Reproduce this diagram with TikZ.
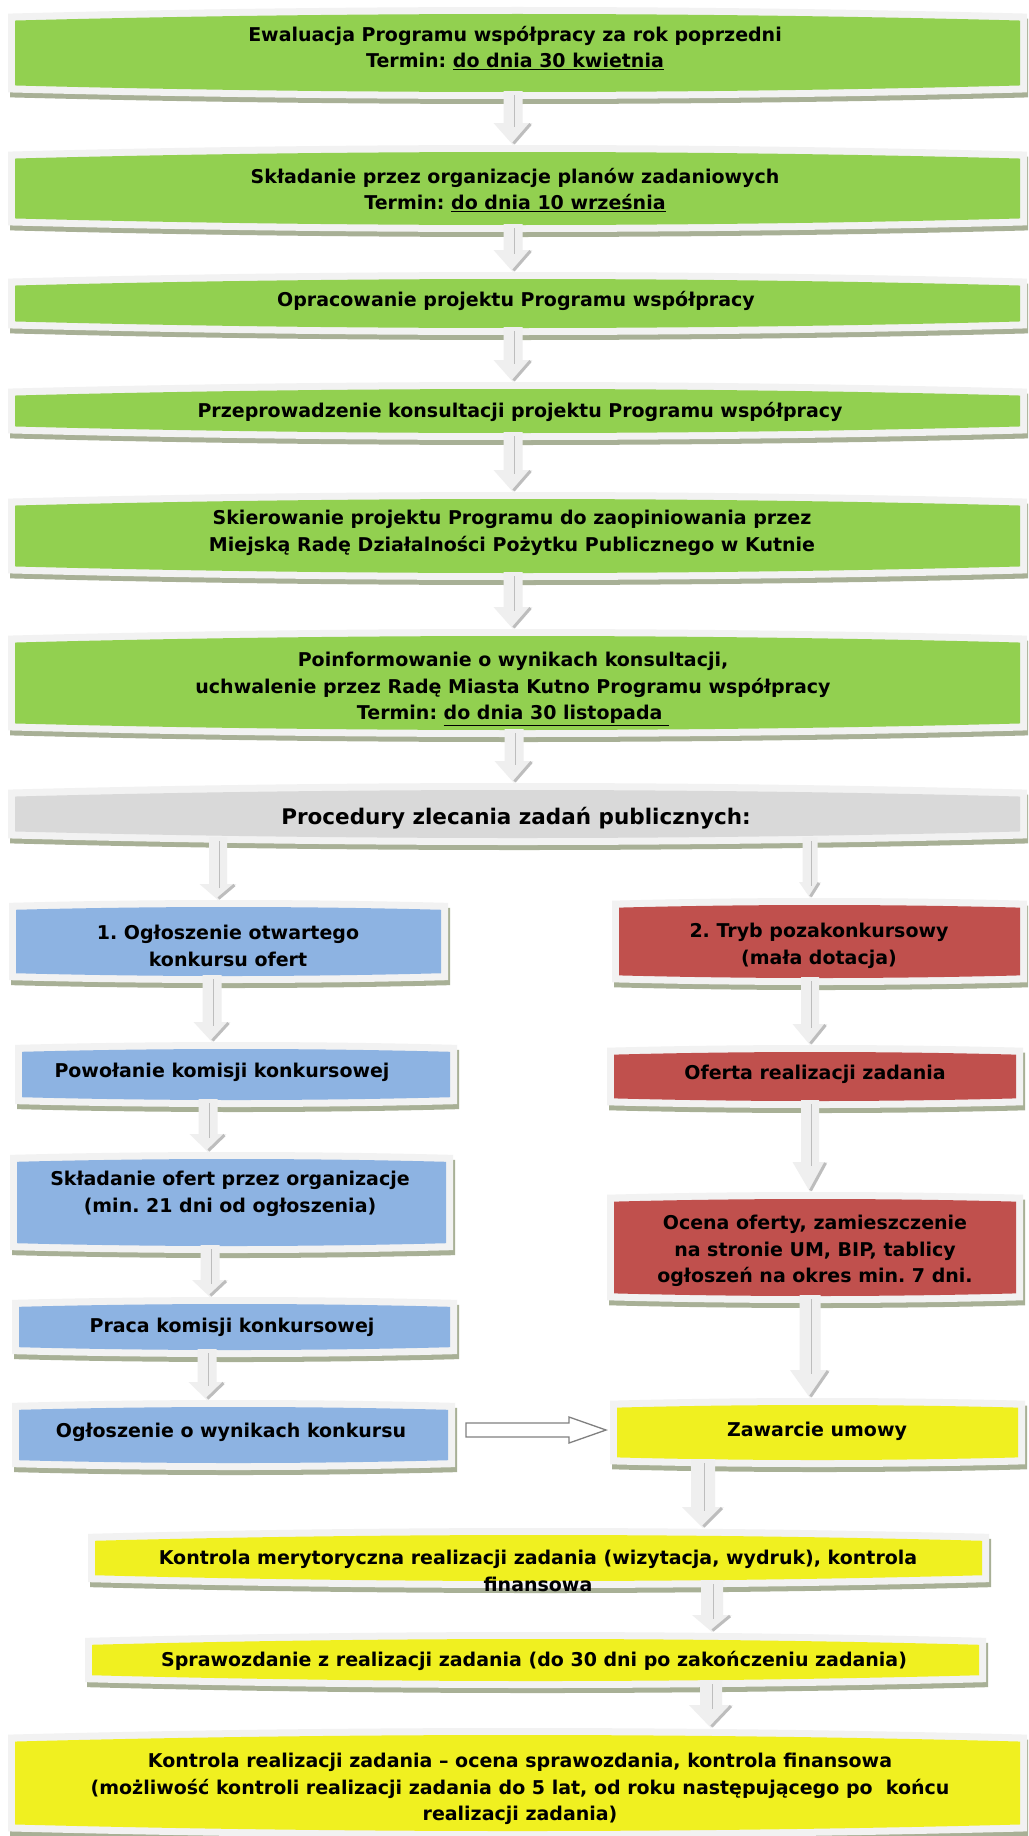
\documentclass[tikz,border=0pt]{standalone}
\usepackage{fontspec}
\setmainfont{DejaVu Sans}
\usetikzlibrary{calc}
\definecolor{greenf}{HTML}{92D050}
\definecolor{bluef}{HTML}{8DB3E2}
\definecolor{redf}{HTML}{C0504D}
\definecolor{yellowf}{HTML}{F0F020}
\definecolor{grayf}{HTML}{D9D9D9}
\definecolor{outerc}{HTML}{F2F2F2}
\definecolor{shadowc}{HTML}{A8B096}
\definecolor{afill}{HTML}{EFEFEF}
\definecolor{adark}{HTML}{BDBDBD}
\definecolor{harrow}{HTML}{808080}
% pillow-like filled shape between x1,y1 and x2,y2 (y grows downward); gentle parabolic bulge
\newcommand\pillowfill[5]{%
  \fill[#1] ({#2},{#3+0.0065*((#4)-(#2))})
    .. controls ({#2+((#4)-(#2))/3},{#3-0.0065*((#4)-(#2))/3}) and ({#4-((#4)-(#2))/3},{#3-0.0065*((#4)-(#2))/3}) .. ({#4},{#3+0.0065*((#4)-(#2))})
    -- ({#4},{#5-0.0065*((#4)-(#2))})
    .. controls ({#4-((#4)-(#2))/3},{#5+0.0065*((#4)-(#2))/3}) and ({#2+((#4)-(#2))/3},{#5+0.0065*((#4)-(#2))/3}) .. ({#2},{#5-0.0065*((#4)-(#2))}) -- cycle;}
% box: name, x1, y1, x2, y2 (outer), fill colour
\newcommand\flowbox[6]{%
  \pillowfill{shadowc}{#2+2}{#3+5}{#4+2}{#5+5}
  \pillowfill{outerc}{#2}{#3}{#4}{#5}
  \pillowfill{#6}{#2+7}{#3+7}{#4-7}{#5-7}
  \node[boxnode, minimum width={(#4)-(#2)-14}, minimum height={(#5)-(#3)-14}] (#1) at ({((#2)+(#4))/2},{((#3)+(#5))/2}) {};}
% block arrow: from, to, x, shaft half width, head half width, head length
\newcommand\garrow[6]{%
  \coordinate (#1#2t) at (#3,0 |- #1.south);
  \coordinate (#1#2p) at ($(#3,0 |- #2.north)+(0,-7)$);
  \fill[afill] ($(#1#2t)+(-#4,-1)$) -- ($(#1#2t)+(#4,-1)$) -- ($(#1#2p)+(#4,-#6)$) -- ($(#1#2p)+(#5,-#6)$)
    -- (#1#2p) -- ($(#1#2p)+(-#5,-#6)$) -- ($(#1#2p)+(-#4,-#6)$) -- cycle;
  \draw[adark, line width=1.2pt] ($(#1#2t)+(1.5,3)$) -- ($(#1#2p)+(1.5,{-#6+4})$);
  \draw[adark, line width=3pt] ($(#1#2p)+({#5-2},{-#6+1})$) -- ($(#1#2p)+(0.5,-1.5)$);}
\begin{document}
\begin{tikzpicture}[x=1pt,y=-1pt,
  boxnode/.style={rectangle, inner sep=0pt, outer sep=0pt},
  txt/.style={font=\bfseries\fontsize{19}{26.5}\selectfont\frenchspacing, align=center, inner sep=0pt, text=black},
  bigtxt/.style={txt, font=\bfseries\fontsize{21.5}{26}\selectfont\frenchspacing},
  hollow/.style={draw=harrow, fill=white, line width=1.3pt, line join=miter}]
\useasboundingbox (0,0) rectangle (1028,1836);
\clip (0,0) rectangle (1028,1836);
\fill[white] (0,0) rectangle (1028,1836);

% main column
\flowbox{b1}{8}{7}{1027}{99}{greenf}
\flowbox{b2}{8}{145}{1027}{232}{greenf}
\flowbox{b3}{8}{272}{1027}{335}{greenf}
\flowbox{b4}{8}{382}{1027}{440}{greenf}
\flowbox{b5}{8}{492}{1027}{580}{greenf}
\flowbox{b6}{8}{629}{1027}{737}{greenf}
\flowbox{b7}{8}{783}{1027}{845}{grayf}
% left column
\flowbox{l1}{9}{900}{448}{983}{bluef}
\flowbox{l2}{15}{1042}{457}{1107}{bluef}
\flowbox{l3}{10}{1152}{453}{1253}{bluef}
\flowbox{l4}{12}{1297}{457}{1357}{bluef}
\flowbox{l5}{12}{1400}{455}{1470}{bluef}
% right column
\flowbox{r1}{612}{898}{1027}{985}{redf}
\flowbox{r2}{607}{1045}{1023}{1108}{redf}
\flowbox{r3}{607}{1192}{1023}{1303}{redf}
\flowbox{r4}{610}{1398}{1025}{1467}{yellowf}
% bottom
\flowbox{y1}{88}{1528}{989}{1588}{yellowf}
\flowbox{y2}{85}{1632}{986}{1688}{yellowf}
\flowbox{y3}{8}{1728}{1027}{1838}{yellowf}

% texts
\node[txt] (t1) at (515,48) {Ewaluacja Programu współpracy za rok poprzedni\\Termin: \underline{do dnia 30 kwietnia}};
\node[txt] (t2) at (515,190) {Składanie przez organizacje planów zadaniowych\\Termin: \underline{do dnia 10 września}};
\node[txt] (t3) at (516,301) {Opracowanie projektu Programu współpracy};
\node[txt] (t4) at (520,412) {Przeprowadzenie konsultacji projektu Programu współpracy};
\node[txt] (t5) at (512,533) {Skierowanie projektu Programu do zaopiniowania przez\\Miejską Radę Działalności Pożytku Publicznego w Kutnie};
\node[txt] (t6) at (513,689) {Poinformowanie o wynikach konsultacji,\\uchwalenie przez Radę Miasta Kutno Programu współpracy\\Termin: \underline{do dnia 30 listopada\ }};
\node[bigtxt] (t7) at (516,818) {Procedury zlecania zadań publicznych:};
\node[txt] (tl1) at (228,946) {1. Ogłoszenie otwartego\\konkursu ofert};
\node[txt] (tl2) at (222,1072) {Powołanie komisji konkursowej};
\node[txt] (tl3) at (230,1194) {Składanie ofert przez organizacje\\(min. 21 dni od ogłoszenia)};
\node[txt] (tl4) at (232,1327) {Praca komisji konkursowej};
\node[txt] (tl5) at (231,1432) {Ogłoszenie o wynikach konkursu};
\node[txt] (tr1) at (819,946) {2. Tryb pozakonkursowy\\(mała dotacja)};
\node[txt] (tr2) at (815,1074) {Oferta realizacji zadania};
\node[txt] (tr3) at (815,1251) {Ocena oferty, zamieszczenie\\na stronie UM, BIP, tablicy\\ogłoszeń na okres min. 7 dni.};
\node[txt] (tr4) at (817,1431) {Zawarcie umowy};
\node[txt] (ty1) at (538,1571) {Kontrola merytoryczna realizacji zadania (wizytacja, wydruk), kontrola\\finansowa};
\node[txt] (ty2) at (534,1661) {Sprawozdanie z realizacji zadania (do 30 dni po zakończeniu zadania)};
\node[txt] (ty3) at (520,1789) {Kontrola realizacji zadania – ocena sprawozdania, kontrola finansowa\\(możliwość kontroli realizacji zadania do 5 lat, od roku następującego po\ \ końcu\\realizacji zadania)};

% arrows
\garrow{b1}{b2}{513}{9.5}{19.5}{22}
\garrow{b2}{b3}{513}{9.5}{19.5}{22}
\garrow{b3}{b4}{513}{9.5}{19.5}{22}
\garrow{b4}{b5}{513}{9.5}{19.5}{22}
\garrow{b5}{b6}{513}{9.5}{19.5}{22}
\garrow{b6}{b7}{514}{9.5}{19.5}{22}
\garrow{b7}{l1}{218}{9}{18.5}{16}
\garrow{b7}{r1}{810}{7.5}{11}{16}
\garrow{l1}{l2}{212}{9.5}{18.5}{20}
\garrow{l2}{l3}{208}{9.5}{18.5}{18}
\garrow{l3}{l4}{210}{9.5}{18}{17}
\garrow{l4}{l5}{207}{9.5}{18.5}{18}
\garrow{r1}{r2}{810}{9}{17.5}{21}
\garrow{r2}{r3}{810}{9}{17.5}{30}
\garrow{r3}{r4}{810}{10.5}{20}{28}
\garrow{r4}{y1}{703}{12}{21}{21}
\garrow{y1}{y2}{712}{11}{20}{17}
\garrow{y2}{y3}{711}{11}{22}{23}

% hollow arrow from l5 to r4
\coordinate (hs) at ($(l5.east)+(18,-5)$);
\coordinate (he) at ($(hs -| r4.west)+(-11,0)$);
\coordinate (hb) at ($(he)+(-37,0)$);
\draw[hollow] ($(hs)+(0,-7)$) -- ($(hb)+(0,-7)$) -- ($(hb)+(0,-13)$) -- (he) -- ($(hb)+(0,13)$) -- ($(hb)+(0,7)$) -- ($(hs)+(0,7)$) -- cycle;
\end{tikzpicture}
\end{document}
